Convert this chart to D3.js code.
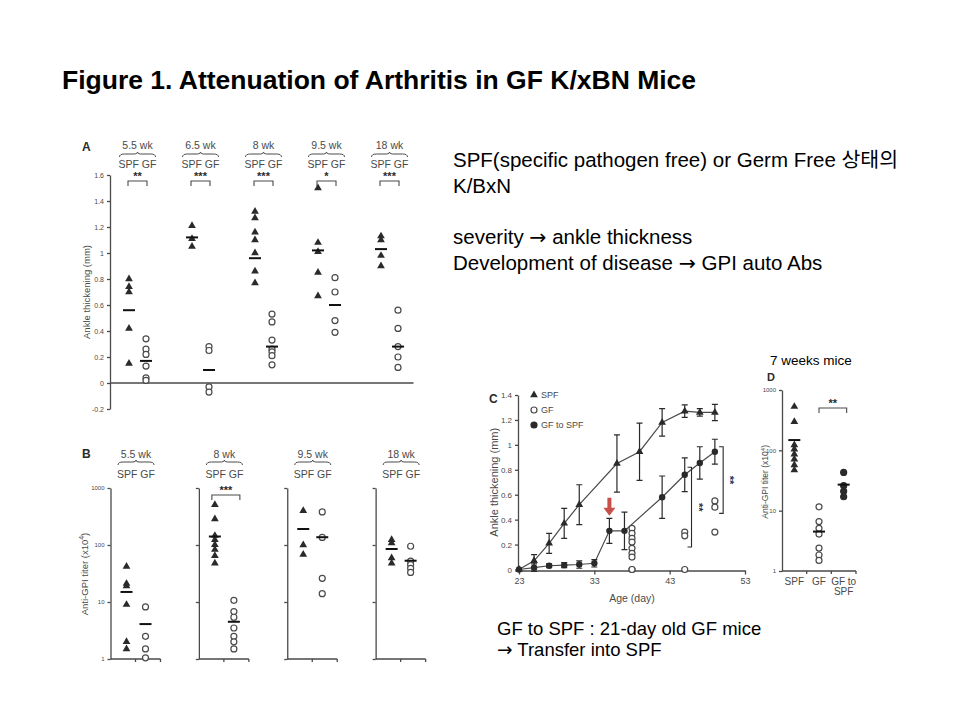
<!DOCTYPE html>
<html>
<head>
<meta charset="utf-8">
<script src="https://cdn.jsdelivr.net/npm/d3@7"></script>
<style>
  body { margin: 0; background: #fff; }
  svg { display: block; }
</style>
</head>
<body>
<svg width="960" height="720"></svg>
<script>
// ---- data ----
const groupsA = ["5.5 wk", "6.5 wk", "8 wk", "9.5 wk", "18 wk"];
const starsA = ["**", "***", "***", "*", "***"];
const spfA = [[0.80, 0.74, 0.70, 0.42, 0.15], [1.21, 1.11, 1.05], [1.32, 1.27, 1.16, 1.10, 1.00, 0.86, 0.77], [1.50, 1.08, 1.01, 0.85, 0.67], [1.13, 1.10, 0.98, 0.90]];
const gfA = [[0.34, 0.26, 0.22, 0.13, 0.04, 0.02], [0.28, 0.25, -0.03, -0.07], [0.53, 0.47, 0.33, 0.26, 0.24, 0.21, 0.14], [0.81, 0.70, 0.48, 0.39], [0.56, 0.42, 0.28, 0.20, 0.12]];
const spfMeanA = [0.56, 1.12, 0.96, 1.02, 1.03];
const gfMeanA = [0.17, 0.10, 0.28, 0.60, 0.28];
const ticksA = [-0.2, 0, 0.2, 0.4, 0.6, 0.8, 1, 1.2, 1.4, 1.6];

const groupsB = ["5.5 wk", "8 wk", "9.5 wk", "18 wk"];
const starsB = ["", "***", "", ""];
const spfB = [[42, 21, 19, 9, 2, 1.5], [509, 286, 146, 124, 101, 83, 65, 48], [400, 100, 68], [124, 108, 59, 48]];
const gfB = [[8.2, 2.5, 1.5, 1.05], [10.7, 6.8, 5.4, 3.5, 2.5, 2.0, 1.5], [380, 136, 26, 14], [95, 52, 45, 39, 33]];
const spfMeanB = [15, 141, 191, 85];
const gfMeanB = [4.1, 4.5, 137, 53];
const ticksLog = [1, 10, 100, 1000];

const daysSPF = [23, 25, 27, 29, 31, 36, 39, 42, 45, 47, 49];
const meanSPF = [0, 0.07, 0.21, 0.37, 0.52, 0.85, 0.945, 1.18, 1.27, 1.26, 1.26];
const semSPF = [0, 0.05, 0.08, 0.12, 0.16, 0.23, 0.23, 0.11, 0.05, 0.03, 0.065];
const daysGFtoSPF = [23, 25, 27, 29, 31, 33, 35, 37, 42, 45, 47, 49];
const meanGFtoSPF = [0, 0.015, 0.03, 0.035, 0.04, 0.05, 0.31, 0.31, 0.58, 0.76, 0.855, 0.945];
const semGFtoSPF = [0, 0.03, 0.015, 0.02, 0.03, 0.03, 0.10, 0.15, 0.17, 0.135, 0.13, 0.10];
const daysGF = [38, 45, 49];
const pointsGF = [[0.33, 0.29, 0.25, 0.22, 0.17, 0.13, 0.10, 0, 0], [0.30, 0.27, 0], [0.55, 0.50, 0.30]];
const ticksC = [0, 0.2, 0.4, 0.6, 0.8, 1, 1.2, 1.4];
const ticksDay = [23, 33, 43, 53];
const bracketsC = [{ day: 45.9, lo: 0.18, hi: 0.82 }, { day: 50.1, lo: 0.45, hi: 0.985 }];
const arrowDay = 35;
const legendC = ["SPF", "GF", "GF to SPF"];

const groupsD = ["SPF", "GF", "GF to SPF"];
const valuesD = [[530, 298, 123, 104, 86, 71, 57, 47], [11.6, 6.6, 5.1, 4.1, 2.4, 1.84, 1.5], [43, 26, 21, 17]];
const meansD = [148, 4.5, 27];

const title = "Figure 1. Attenuation of Arthritis in GF K/xBN Mice";
const notes = ["SPF(specific pathogen free) or Germ Free 상태의", "K/BxN", "", "severity \u2192 ankle thickness", "Development of disease \u2192 GPI auto Abs"];
const notesC = ["GF to SPF : 21-day old GF mice", "\u2192 Transfer into SPF"];

// ---- drawing ----
let svg = d3.select("svg");
const font = "Arial, 'Liberation Sans', 'Noto Sans CJK KR', sans-serif";
const ink = "#2a2a2a";
const grey = "#4a4a4a";
const tri = d3.symbol().type(d3.symbolTriangle).size(26);

function styleAxis(g, fs) {
    g.attr("font-family", font).attr("font-size", fs);
    g.selectAll("path, line").attr("stroke", grey).attr("stroke-width", 1.3);
    g.selectAll("text").attr("fill", grey);
}
function brace(cx, y, hw) {
    svg.append("path")
        .attr("d", `M${cx - hw},${y + 3} Q${cx - hw},${y} ${cx - hw + 5},${y} L${cx - 3},${y} Q${cx},${y} ${cx},${y - 2} Q${cx},${y} ${cx + 3},${y} L${cx + hw - 5},${y} Q${cx + hw},${y} ${cx + hw},${y + 3}`)
        .attr("fill", "none").attr("stroke", grey).attr("stroke-width", 1);
}
function txt(x, y, s, fs, opt = {}) {
    return svg.append("text").attr("x", x).attr("y", y)
        .attr("font-family", font).attr("font-size", fs)
        .attr("text-anchor", opt.anchor || "start")
        .attr("font-weight", opt.bold ? "bold" : null)
        .attr("fill", opt.fill || ink).text(s);
}
// slide text: the arrow is drawn with a wider glyph, like the original
function note(x, y, s, fs) {
    const t = svg.append("text").attr("x", x).attr("y", y)
        .attr("font-family", font).attr("font-size", fs).attr("fill", "#000");
    s.split("\u2192").forEach((part, i) => {
        if (i > 0) t.append("tspan").attr("font-family", "'DejaVu Sans', sans-serif").text("\u2192");
        t.append("tspan").text(part);
    });
}
function triangles(g, x, vals, y) {
    g.selectAll(null).data(vals).enter().append("path")
        .attr("d", tri).attr("fill", ink)
        .attr("transform", d => `translate(${x},${y(d)})`);
}
function circles(g, x, vals, y, filled) {
    g.selectAll(null).data(vals).enter().append("circle")
        .attr("cx", x).attr("cy", d => y(d)).attr("r", 3)
        .attr("fill", filled ? ink : "#fff").attr("stroke", filled ? ink : grey).attr("stroke-width", 1.2);
}
function meanBar(x, v, y, hw) {
    svg.append("line").attr("x1", x - hw).attr("x2", x + hw)
        .attr("y1", y(v)).attr("y2", y(v)).attr("stroke", "#111").attr("stroke-width", 2);
}
function sigBracket(x1, x2, y, stars) {
    svg.append("path").attr("d", `M${x1},${y + 5} V${y} H${x2} V${y + 5}`)
        .attr("fill", "none").attr("stroke", grey).attr("stroke-width", 1.1);
    txt((x1 + x2) / 2, y - 1, stars, 11, { anchor: "middle", bold: true });
}

// title and notes
txt(62, 89, title, 26.5, { bold: true, fill: "#000" });
notes.forEach((s, i) => note(453, 167 + i * 25.7, s, 20.5));
notesC.forEach((s, i) => note(497, 635 + i * 21, s, 18.5));
txt(770, 365, "7 weeks mice", 13.5, { fill: "#000" });

// ---- panel A ----
const yA = d3.scaleLinear().domain([-0.2, 1.6]).range([409, 175]);
const xA = d3.scaleBand().domain(groupsA).range([106, 421]);
const inA = d3.scalePoint().domain(["SPF", "GF"]).range([-8.5, 8.5]);
let gA = svg.append("g");
styleAxis(gA.append("g").attr("transform", "translate(110,0)")
    .call(d3.axisLeft(yA).tickValues(ticksA).tickSize(3).tickSizeOuter(0).tickFormat(d => String(d))), 7);
gA.append("line").attr("x1", 110).attr("x2", xA(groupsA[4]) + xA.bandwidth() / 2 + 24)
    .attr("y1", yA(0)).attr("y2", yA(0)).attr("stroke", grey).attr("stroke-width", 1.3);
txt(82, 151, "A", 12, { bold: true });
svg.append("text").attr("transform", `translate(90,${yA(0.7)}) rotate(-90)`)
    .attr("text-anchor", "middle").attr("font-family", font).attr("font-size", 9.5).attr("fill", grey)
    .text("Ankle thickening (mm)");
groupsA.forEach((g, i) => {
    const cx = xA(g) + xA.bandwidth() / 2;
    txt(cx, 149, g, 10.5, { anchor: "middle", fill: grey });
    brace(cx, 154, 18);
    txt(cx, 168, "SPF GF", 10.5, { anchor: "middle", fill: grey });
    sigBracket(cx + inA("SPF") - 1, cx + inA("GF") + 1, 181, starsA[i]);
    triangles(gA, cx + inA("SPF"), spfA[i], yA);
    circles(gA, cx + inA("GF"), gfA[i], yA, false);
    meanBar(cx + inA("SPF"), spfMeanA[i], yA, 6);
    meanBar(cx + inA("GF"), gfMeanA[i], yA, 6);
});

// ---- panel B ----
const yB = d3.scaleLog().domain([1, 1000]).range([659, 488]);
const xB = d3.scaleBand().domain(groupsB).range([110.5, 464]);
const inB = d3.scalePoint().domain(["SPF", "GF"]).range([16, 35]);
let gB = svg.append("g");
txt(82, 458, "B", 12, { bold: true });
svg.append("text").attr("transform", `translate(88,${yB(31)}) rotate(-90)`)
    .attr("text-anchor", "middle").attr("font-family", font).attr("font-size", 9.5).attr("fill", grey)
    .text("Anti-GPI titer (x10").append("tspan").attr("dy", -4).attr("font-size", 7).text("4")
    .select(function () { return this.parentNode; }).append("tspan").attr("dy", 4).text(")");
groupsB.forEach((g, i) => {
    const x0 = xB(g);
    const ax = gB.append("g").attr("transform", `translate(${x0},0)`)
        .call(d3.axisLeft(yB).tickValues(ticksLog).tickSize(3).tickSizeOuter(0).tickFormat(i === 0 ? d3.format("d") : ""));
    styleAxis(ax, 6);
    gB.append("path").attr("d", `M${x0},${yB(1)} H${x0 + 50} M${x0 + 25},${yB(1)} v3 M${x0 + 50},${yB(1)} v3`)
        .attr("stroke", grey).attr("stroke-width", 1.3).attr("fill", "none");
    const cx = x0 + (inB("SPF") + inB("GF")) / 2;
    txt(cx, 458, g, 10.5, { anchor: "middle", fill: grey });
    brace(cx, 462, 18);
    txt(cx, 478, "SPF GF", 10.5, { anchor: "middle", fill: grey });
    if (starsB[i]) sigBracket(x0 + inB("SPF") - 3, x0 + inB("GF") + 6, 495, starsB[i]);
    triangles(gB, x0 + inB("SPF"), spfB[i], yB);
    circles(gB, x0 + inB("GF"), gfB[i], yB, false);
    meanBar(x0 + inB("SPF"), spfMeanB[i], yB, 6);
    meanBar(x0 + inB("GF"), gfMeanB[i], yB, 6);
});

// ---- panel C ----
const xC = d3.scaleLinear().domain([23, 53]).range([519, 745]);
const yC = d3.scaleLinear().domain([0, 1.4]).range([569.5, 395]);
let gC = svg.append("g");
styleAxis(gC.append("g").attr("transform", "translate(518,0)")
    .call(d3.axisLeft(yC).tickValues(ticksC).tickSize(3).tickSizeOuter(0).tickFormat(d => String(d))), 8);
styleAxis(gC.append("g").attr("transform", `translate(0,${yC(0) + 1})`)
    .call(d3.axisBottom(xC).tickValues(ticksDay).tickSize(4).tickSizeOuter(0)), 9);
txt(489, 403, "C", 12, { bold: true });
txt(xC(38), 602, "Age (day)", 10.5, { anchor: "middle", fill: grey });
svg.append("text").attr("transform", `translate(498,${yC(0.7)}) rotate(-90)`)
    .attr("text-anchor", "middle").attr("font-family", font).attr("font-size", 11).attr("fill", grey)
    .text("Ankle thickening (mm)");

const lineC = d3.line().x(d => xC(d.day)).y(d => yC(d.v));
const spfRows = daysSPF.map((d, i) => ({ day: d, v: meanSPF[i], e: semSPF[i] }));
const g2sRows = daysGFtoSPF.map((d, i) => ({ day: d, v: meanGFtoSPF[i], e: semGFtoSPF[i] }));
[spfRows, g2sRows].forEach(rows => {
    gC.append("path").datum(rows).attr("d", lineC).attr("fill", "none").attr("stroke", grey).attr("stroke-width", 1.2);
    gC.selectAll(null).data(rows.filter(r => r.e > 0)).enter().append("path")
        .attr("d", r => `M${xC(r.day)},${yC(r.v - r.e)} V${yC(r.v + r.e)} M${xC(r.day) - 3},${yC(r.v - r.e)} h6 M${xC(r.day) - 3},${yC(r.v + r.e)} h6`)
        .attr("stroke", ink).attr("stroke-width", 1.2).attr("fill", "none");
});
gC.selectAll(null).data(spfRows).enter().append("path")
    .attr("d", tri).attr("fill", ink).attr("transform", r => `translate(${xC(r.day)},${yC(r.v)})`);
gC.selectAll(null).data(g2sRows).enter().append("circle")
    .attr("cx", r => xC(r.day)).attr("cy", r => yC(r.v)).attr("r", 3.2).attr("fill", ink);
daysGF.forEach((d, i) => circles(gC, xC(d), pointsGF[i], yC, false));

bracketsC.forEach(b => {
    const x = xC(b.day);
    gC.append("path").attr("d", `M${x - 4},${yC(b.hi)} H${x} V${yC(b.lo)} H${x - 4}`)
        .attr("fill", "none").attr("stroke", ink).attr("stroke-width", 1.1);
    svg.append("text").attr("transform", `translate(${x + 3},${yC((b.hi + b.lo) / 2)}) rotate(90)`)
        .attr("text-anchor", "middle").attr("font-family", font).attr("font-size", 11).attr("font-weight", "bold")
        .attr("fill", "#2b3550").text("**");
});
// red arrow marking the transfer
const ax = xC(arrowDay);
gC.append("path")
    .attr("d", `M${ax - 2},${yC(0.575)} h4 v10 h4 l-6,8 l-6,-8 h4 z`)
    .attr("fill", "#c9504a");

legendC.forEach((s, i) => {
    const ly = 395 + i * 15;
    if (i === 0) gC.append("path").attr("d", tri).attr("fill", ink).attr("transform", `translate(534,${ly})`);
    else gC.append("circle").attr("cx", 534).attr("cy", ly).attr("r", 3)
        .attr("fill", i === 2 ? ink : "#fff").attr("stroke", i === 2 ? ink : grey).attr("stroke-width", 1.2);
    txt(541, ly + 3, s, 9, { fill: grey });
});

// ---- panel D ----
const yD = d3.scaleLog().domain([1, 1000]).range([571, 390]);
const xD = d3.scaleBand().domain(groupsD).range([782, 856]);
let gD = svg.append("g");
styleAxis(gD.append("g").attr("transform", "translate(782,0)")
    .call(d3.axisLeft(yD).tickValues(ticksLog).tickSize(3).tickSizeOuter(0).tickFormat(d3.format("d"))), 6);
gD.append("path")
    .attr("d", `M782,${yD(1)} H856 ` + groupsD.map(g => `M${xD(g) + xD.bandwidth()},${yD(1)} v3`).join(" "))
    .attr("stroke", grey).attr("stroke-width", 1.3).attr("fill", "none");
txt(767, 381, "D", 11, { bold: true });
svg.append("text").attr("transform", `translate(768,${yD(30)}) rotate(-90)`)
    .attr("text-anchor", "middle").attr("font-family", font).attr("font-size", 8.5).attr("fill", grey)
    .text("Anti-GPI titer (x10").append("tspan").attr("dy", -3).attr("font-size", 6).text("4")
    .select(function () { return this.parentNode; }).append("tspan").attr("dy", 3).text(")");
groupsD.forEach((g, i) => {
    const cx = xD(g) + xD.bandwidth() / 2;
    if (i === 0) triangles(gD, cx, valuesD[i], yD);
    else circles(gD, cx, valuesD[i], yD, i === 2);
    meanBar(cx, meansD[i], yD, 6);
    const parts = g === "GF to SPF" ? ["GF to", "SPF"] : [g];
    parts.forEach((p, j) => txt(cx, 585 + j * 10, p, 10, { anchor: "middle", fill: grey }));
});
sigBracket(xD("GF") + xD.bandwidth() / 2, xD("GF to SPF") + xD.bandwidth() / 2 + 3, 408, "**");
</script>
</body>
</html>
